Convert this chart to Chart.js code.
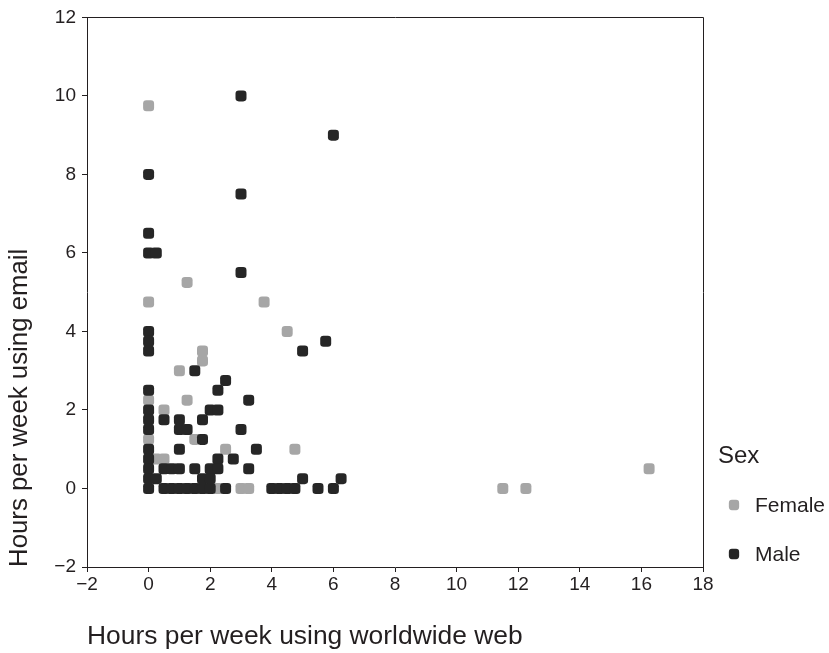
<!DOCTYPE html>
<html>
<head>
<meta charset="utf-8">
<script src="https://cdn.jsdelivr.net/npm/chart.js@4.4.1/dist/chart.umd.min.js"></script>
<style>
  html, body { margin: 0; padding: 0; background: #fff; }
</style>
</head>
<body>
<canvas id="c" width="829" height="653"></canvas>
<script>
// Hours per week: web (x) vs email (y), by sex
const femaleX = [0, 0, 1.25, 3.75, 4.5, 1.75, 1.75, 1, 0, 1.25, 0.5, 0, 1.5, 2.5, 4.75, 0.25, 0.5, 2.25, 3, 3.25, 11.5, 12.25, 16.25];
const femaleY = [9.75, 4.75, 5.25, 4.75, 4, 3.5, 3.25, 3, 2.25, 2.25, 2, 1.25, 1.25, 1, 1, 0.75, 0.75, 0, 0, 0, 0, 0, 0.5];

const maleX = [3, 6, 0, 3, 0, 0, 0.25, 3,
  0, 0, 0, 5.75, 5, 1.5, 2.5,
  0, 2.25, 3.25,
  0, 2, 2.25,
  0, 0.5, 1, 1.75,
  0, 1, 1.25, 3,
  1.75,
  0, 1, 3.5,
  0, 2.25, 2.75,
  0, 0.5, 0.75, 1, 1.5, 2, 2.25, 3.25,
  0, 0.25, 1.75, 2, 5, 6.25,
  0, 0.5, 0.75, 1, 1.25, 1.5, 1.75, 2, 2.5, 4, 4.25, 4.5, 4.75, 5.5, 6];
const maleY = [10, 9, 8, 7.5, 6.5, 6, 6, 5.5,
  4, 3.75, 3.5, 3.75, 3.5, 3, 2.75,
  2.5, 2.5, 2.25,
  2, 2, 2,
  1.75, 1.75, 1.75, 1.75,
  1.5, 1.5, 1.5, 1.5,
  1.25,
  1, 1, 1,
  0.75, 0.75, 0.75,
  0.5, 0.5, 0.5, 0.5, 0.5, 0.5, 0.5, 0.5,
  0.25, 0.25, 0.25, 0.25, 0.25, 0.25,
  0, 0, 0, 0, 0, 0, 0, 0, 0, 0, 0, 0, 0, 0, 0];

const seriesNames = ['Female', 'Male'];
const legendTitle = 'Sex';
const xTitle = 'Hours per week using worldwide web';
const yTitle = 'Hours per week using email';
const xRange = [-2, 18];
const yRange = [-2, 12];
const tickStep = 2;

const FONT = "'Liberation Sans', Arial, sans-serif";
const INK = '#231f20';
const COLORS = ['#a6a6a6', '#262626'];
const MARK_R = 6.4;

function pts(xs, ys) {
  return xs.map((x, i) => ({x: x, y: ys[i]}));
}

function fmt(v) {
  return v < 0 ? '\u2212' + Math.abs(v) : String(v);
}

// frame around plot area (top + right edges)
const frame = {
  id: 'frame',
  afterDraw(chart) {
    const a = chart.chartArea;
    const ctx = chart.ctx;
    ctx.save();
    ctx.strokeStyle = INK;
    ctx.lineWidth = 1;
    ctx.beginPath();
    ctx.moveTo(Math.round(a.left) + 0.5, Math.round(a.top) + 0.5);
    ctx.lineTo(Math.round(a.right) + 0.5, Math.round(a.top) + 0.5);
    ctx.lineTo(Math.round(a.right) + 0.5, Math.round(a.bottom) + 0.5);
    ctx.stroke();
    ctx.restore();
  }
};

// legend on the right, bottom aligned like the original
const sexLegend = {
  id: 'sexLegend',
  afterDraw(chart) {
    const a = chart.chartArea;
    const ctx = chart.ctx;
    const x0 = a.right + 15;
    ctx.save();
    ctx.fillStyle = INK;
    ctx.textBaseline = 'middle';
    ctx.textAlign = 'left';
    ctx.font = '24px ' + FONT;
    ctx.fillText(legendTitle, x0, a.bottom - 111);
    ctx.font = '21px ' + FONT;
    chart.data.datasets.forEach((ds, i) => {
      const y = a.bottom - 62 + i * 49;
      ctx.fillStyle = ds.backgroundColor;
      Chart.helpers.drawPoint(ctx, {pointStyle: 'rectRounded', radius: 6, rotation: 0, borderWidth: 0}, x0 + 16, y);
      ctx.fillStyle = INK;
      ctx.fillText(ds.label, x0 + 37, y + 1);
    });
    ctx.restore();
  }
};

const axisCommon = {
  type: 'linear',
  grid: {drawOnChartArea: false, drawTicks: true, tickLength: 5, color: INK},
  border: {color: INK, width: 1}
};

new Chart(document.getElementById('c').getContext('2d'), {
  type: 'scatter',
  data: {
    datasets: [
      {
        label: seriesNames[0],
        data: pts(femaleX, femaleY),
        backgroundColor: COLORS[0],
        pointStyle: 'rectRounded',
        pointRadius: MARK_R,
        pointBorderWidth: 0,
        order: 1
      },
      {
        label: seriesNames[1],
        data: pts(maleX, maleY),
        backgroundColor: COLORS[1],
        pointStyle: 'rectRounded',
        pointRadius: MARK_R,
        pointBorderWidth: 0,
        order: 0
      }
    ]
  },
  options: {
    responsive: false,
    animation: false,
    layout: {padding: {left: 4, top: 15, right: 126, bottom: 0}},
    plugins: {
      legend: {display: false},
      tooltip: {enabled: false}
    },
    scales: {
      x: {
        ...axisCommon,
        min: xRange[0],
        max: xRange[1],
        ticks: {stepSize: tickStep, color: INK, font: {family: FONT, size: 19}, padding: 1, callback: fmt, maxRotation: 0},
        title: {display: true, text: xTitle, align: 'start', color: INK, font: {family: FONT, size: 26.4}, padding: {top: 0, bottom: 0}},
        afterFit: s => { s.height = 86; }
      },
      y: {
        ...axisCommon,
        min: yRange[0],
        max: yRange[1],
        ticks: {stepSize: tickStep, color: INK, font: {family: FONT, size: 19}, padding: 6, callback: fmt},
        title: {display: true, text: yTitle, align: 'start', color: INK, font: {family: FONT, size: 25.8}, padding: {top: 0, bottom: 0}},
        afterFit: s => { s.width = 83; }
      }
    }
  },
  plugins: [frame, sexLegend]
});
</script>
</body>
</html>
